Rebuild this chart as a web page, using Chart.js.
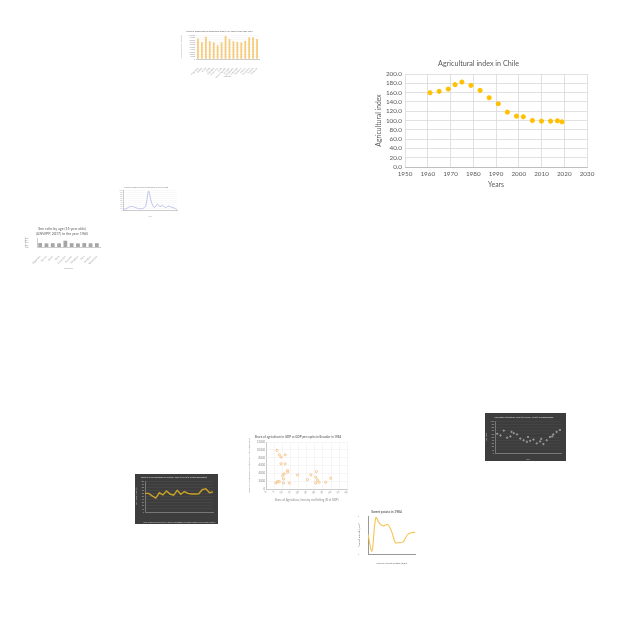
<!DOCTYPE html>
<html><head><meta charset="utf-8">
<script src="https://cdn.jsdelivr.net/npm/chart.js@4.4.1/dist/chart.umd.min.js"></script>
<style>
html,body{margin:0;padding:0;background:#fff;width:640px;height:640px;overflow:hidden;}
canvas{position:absolute;}
</style></head><body>
<script>
// ---------- DATA ----------
// Main chart: Agricultural index in Chile
const chileYears = [1961,1965,1969,1972,1975,1979,1983,1987,1991,1995,1999,2002,2006,2010,2014,2017,2019];
const chileIndex = [159.7,162.6,167.6,177.0,182.7,175.5,164.7,148.9,136.0,118.0,109.4,108.0,100.0,98.6,98.6,99.3,97.1];

// Thumbnail: bar chart (top)
const cropCountries = ['Argentina','Bolivia','Brazil','Chile','Colombia','Costa Rica','Cuba','Dominican Republic','Ecuador','El Salvador','Guatemala','Honduras','Mexico','Nicaragua','Panama','Paraguay'];
const cropValues = [8500,7000,9300,7400,6900,5700,6900,9600,8300,7400,7100,6900,7600,9000,9100,8300];

// Thumbnail: spiky line chart
const spikeYears = [1961,1964,1967,1970,1973,1976,1979,1982,1985,1988,1991,1994,1997,2000,2003,2006,2009,2012,2015,2018];
const spikeValues = [2,6,14,18,15,9,6,8,20,95,40,12,28,18,22,12,20,14,10,2];

// Thumbnail: sex ratio bars
const sexCountries = ['Argentina','Bolivia','Brazil','Chile','Colombia','Ecuador','Paraguay','Peru','Uruguay','Venezuela'];
const sexValues = [101.5,101.2,101.4,101.3,103.6,101.4,101.2,101.5,101.3,101.4];

// Thumbnail: dark line chart
const darkLineYears = [1961,1963,1965,1967,1969,1971,1973,1975,1977,1979,1981,1983,1985,1987,1989,1991,1993,1995,1997,1999];
const darkLineValues = [60,60,52,45,62,55,68,58,54,70,57,66,60,58,58,59,72,75,62,65];

// Thumbnail: Ecuador scatter
const ecuadorShare = [6.7,8.2,9.2,11.8,9.2,11.8,13.3,11.2,10.2,10.8,7.1,6.1,8.2,10.8,14.3,19.4,25.5,27.6,31.0,30.6,31.6,32.7,30.6,36.7,39.8,13.3];
const ecuadorGdp = [9860,8740,8140,8740,6430,6430,4710,3860,3430,2570,1890,1540,1890,1540,1540,3600,2400,3600,4460,3000,2310,1710,1540,1710,2740,4290];

// Thumbnail: sweet potato line
const potatoYears = [1961,1963,1965,1967,1969,1971,1973,1975,1977,1979,1981,1983,1985];
const potatoValues = [5.2,0.8,9.6,8.0,7.4,7.8,6.0,3.0,3.0,3.2,5.0,5.6,5.7];

// Thumbnail: dark scatter
const darkScatterX = [1962,1965,1968,1971,1974,1977,1980,1983,1986,1989,1992,1995,1998,2001,2004,2007,2010,2013,2016,2019,1975,1990,2002,2012];
const darkScatterY = [60,55,70,48,52,62,58,45,40,35,38,42,30,36,28,40,50,58,66,72,66,50,44,52];

// ---------- HELPERS ----------
Chart.defaults.font.family = 'Lato, "Liberation Sans", sans-serif';
Chart.defaults.animation = false;
Chart.defaults.responsive = false;
Chart.defaults.devicePixelRatio = 1;
Chart.defaults.plugins.legend.display = false;
Chart.defaults.plugins.tooltip.enabled = false;

function place(left, top, w, h, bg){
  const c = document.createElement('canvas');
  c.width = w; c.height = h;
  c.style.left = left + 'px'; c.style.top = top + 'px';
  c.style.width = w + 'px'; c.style.height = h + 'px';
  if (bg) c.style.background = bg;
  document.body.appendChild(c);
  return c;
}
// set plot area (l,t,r,b in canvas px)
function frame(opts, w, h, l, t, r, b){
  opts.layout = {padding:{left:0, right:w - r, top:0, bottom:0}};
  opts.scales.y.afterFit = s => { s.width = l; };
  opts.scales.x.afterFit = s => { s.height = h - b; };
  const tt = opts.plugins.title;
  const lines = Array.isArray(tt.text) ? tt.text.length : 1;
  const th = tt.font.size * 1.2 * lines;
  const pb = Math.max(0.5, (t - th) * 0.45);
  tt.padding = {top: Math.max(0, t - th - pb), bottom: pb};
  return opts;
}
const pts = (xs, ys) => xs.map((x, i) => ({x: x, y: ys[i]}));
const txt = '#595959';

// ---------- MAIN CHART ----------
{
  const W = 230, H = 140;
  const opts = {
    plugins: {
      title: {display:true, text:'Agricultural index in Chile', color:txt, font:{size:7.2, weight:'normal'}}
    },
    scales: {
      x: {type:'linear', min:1950, max:2030,
          ticks:{stepSize:10, color:txt, font:{size:6.3}, padding:3, autoSkip:false, maxRotation:0, callback:v => String(v)},
          grid:{color:'#d9d9d9', lineWidth:0.8, drawTicks:false},
          border:{color:'#bfbfbf'},
          title:{display:true, text:'Years', color:txt, font:{size:6.8}, padding:{top:0,bottom:3}}},
      y: {min:0, max:200,
          ticks:{stepSize:20, color:txt, font:{size:6.3}, padding:3, autoSkip:false, callback:v => v.toFixed(1)},
          grid:{color:'#d9d9d9', lineWidth:0.8, drawTicks:false},
          border:{display:false},
          title:{display:true, text:'Agricultural index', color:txt, font:{size:6.8}, padding:{top:5,bottom:0}}}
    }
  };
  frame(opts, W, H, 35, 22, 217, 115);
  new Chart(place(370, 52, W, H), {
    type:'scatter',
    data:{datasets:[{data:pts(chileYears, chileIndex), backgroundColor:'#FFC000', borderColor:'#FFC000', pointRadius:2.1}]},
    options:opts
  });
}

// ---------- THUMB: top bar chart ----------
{
  const W = 85, H = 52;
  const opts = {
    plugins:{title:{display:true, text:'Share of arable land in agricultural area (FAO, 2018) in the year 1975', color:'#777', font:{size:2.2}}},
    scales:{
      x:{ticks:{color:'#999', font:{size:2.2}, autoSkip:false, minRotation:45, maxRotation:45, padding:0},
         grid:{display:false}, border:{color:'#ccc'},
         title:{display:true, text:'Country', color:'#999', font:{size:2.2}, padding:0}},
      y:{min:0, max:10000, ticks:{stepSize:1000, color:'#999', font:{size:2.2}, padding:1, autoSkip:false},
         grid:{color:'#eee', lineWidth:0.4, drawTicks:false}, border:{display:false},
         title:{display:true, text:'Share of arable land (%)', color:'#999', font:{size:2.2}, padding:0}}
    }
  };
  frame(opts, W, H, 16, 9, 79, 33);
  new Chart(place(180, 26, W, H), {
    type:'bar',
    data:{labels:cropCountries, datasets:[{data:cropValues, backgroundColor:'#F7CB7A', barPercentage:0.45, categoryPercentage:1}]},
    options:opts
  });
}

// ---------- THUMB: spike line chart ----------
{
  const W = 65, H = 34;
  const opts = {
    plugins:{title:{display:true, text:'Annual change in cereal production, 1961 to 2018', color:'#999', font:{size:2}}},
    scales:{
      x:{type:'linear', min:1961, max:2018,
         ticks:{stepSize:3, color:'#aaa', font:{size:2}, padding:0.5, callback:v=>String(v), autoSkip:false, minRotation:90, maxRotation:90},
         grid:{display:false}, border:{color:'#ccc'},
         title:{display:true, text:'Year', color:'#aaa', font:{size:2}, padding:0}},
      y:{min:0, max:100, ticks:{stepSize:10, color:'#aaa', font:{size:2}, padding:0.5, autoSkip:false},
         grid:{color:'#f0f0f0', lineWidth:0.4, drawTicks:false}, border:{color:'#ccc'}}
    }
  };
  frame(opts, W, H, 8, 6, 62, 26);
  new Chart(place(115, 184, W, H), {
    type:'line',
    data:{datasets:[{data:pts(spikeYears, spikeValues), borderColor:'#B9BDEB', borderWidth:0.9, pointRadius:0, tension:0.3}]},
    options:opts
  });
}

// ---------- THUMB: sex ratio bars ----------
{
  const W = 80, H = 46;
  const opts = {
    plugins:{title:{display:true, text:['Sex ratio by age (15 year olds)','(UNWPP, 2017) in the year 1965'], color:'#888', font:{size:3.6}}},
    scales:{
      x:{ticks:{color:'#999', font:{size:2.5}, autoSkip:false, minRotation:45, maxRotation:45, padding:0},
         grid:{display:false}, border:{color:'#ccc'},
         title:{display:true, text:'Country', color:'#999', font:{size:2.5}, padding:0}},
      y:{min:98, max:106, ticks:{stepSize:2, color:'#999', font:{size:2.5}, padding:0.5, autoSkip:false},
         grid:{display:false}, border:{color:'#ccc'},
         title:{display:true, text:'Sex ratio', color:'#999', font:{size:2.5}, padding:0}}
    }
  };
  frame(opts, W, H, 13, 14, 76, 23);
  new Chart(place(24, 224, W, H), {
    type:'bar',
    data:{labels:sexCountries, datasets:[{data:sexValues, backgroundColor:'#A6A6A6', barPercentage:0.6, categoryPercentage:1}]},
    options:opts
  });
}

// ---------- THUMB: dark line chart ----------
{
  const W = 83, H = 50;
  const opts = {
    plugins:{title:{display:true, text:'Share of rural population in Paraguay, 1961 to 1999 (% of total population)', color:'#ccc', font:{size:2}}},
    scales:{
      x:{type:'linear', min:1961, max:1999,
         ticks:{stepSize:2, color:'#bbb', font:{size:2}, padding:1, callback:v=>String(v), autoSkip:false, maxRotation:0},
         grid:{display:false}, border:{color:'#777'},
         title:{display:true, text:'Year', color:'#bbb', font:{size:2}, padding:0.5}},
      y:{min:0, max:100, ticks:{stepSize:10, color:'#bbb', font:{size:2}, padding:1, autoSkip:false},
         grid:{color:'#505050', lineWidth:0.4, drawTicks:false}, border:{color:'#777'},
         title:{display:true, text:'Rural population (%)', color:'#bbb', font:{size:2}, padding:0}}
    }
  };
  frame(opts, W, H, 10, 7, 78, 38);
  new Chart(place(135, 474, W, H, '#3d3d3d'), {
    type:'line',
    data:{datasets:[{data:pts(darkLineYears, darkLineValues), borderColor:'#C9A227', borderWidth:1.4, pointRadius:0}]},
    options:opts
  });
}

// ---------- THUMB: Ecuador scatter ----------
{
  const W = 104, H = 70;
  const opts = {
    plugins:{title:{display:true, text:'Share of agriculture in GDP vs GDP per capita in Ecuador in 1984', color:'#777', font:{size:3}}},
    scales:{
      x:{type:'linear', min:0, max:50,
         ticks:{stepSize:5, color:'#888', font:{size:2.8}, padding:1, autoSkip:false, callback:v=>String(v)},
         grid:{color:'#ececec', lineWidth:0.5, drawTicks:false}, border:{color:'#ccc'},
         title:{display:true, text:'Share of Agriculture, forestry and fishing (% of GDP)', color:'#888', font:{size:2.8}, padding:{top:1,bottom:0}}},
      y:{min:0, max:12000, ticks:{stepSize:2000, color:'#888', font:{size:2.8}, padding:1, autoSkip:false, callback:v=>String(v)},
         grid:{color:'#ececec', lineWidth:0.5, drawTicks:false}, border:{color:'#ccc'},
         title:{display:true, text:'GDP per capita (PPP, constant 2011 international $)', color:'#888', font:{size:2.4}, padding:0}}
    }
  };
  frame(opts, W, H, 18, 10, 100, 57);
  new Chart(place(248, 432, W, H), {
    type:'scatter',
    data:{datasets:[{data:pts(ecuadorShare, ecuadorGdp), backgroundColor:'rgba(255,255,255,0)', borderColor:'#F3B56A', borderWidth:0.7, pointRadius:1.1}]},
    options:opts
  });
}

// ---------- THUMB: sweet potato line ----------
{
  const W = 60, H = 58;
  const opts = {
    plugins:{title:{display:true, text:'Sweet potato in 1984', color:'#666', font:{size:3.2}}},
    scales:{
      x:{type:'linear', min:1961, max:1985,
         ticks:{display:false},
         grid:{display:false}, border:{color:'#999'},
         title:{display:true, text:'Yield of Sweet Potato (t/ha)', color:'#666', font:{size:2.6}, padding:{top:1,bottom:0}}},
      y:{min:0, max:10, ticks:{stepSize:2, color:'#888', font:{size:2.4}, padding:1, autoSkip:false},
         grid:{display:false}, border:{color:'#999'},
         title:{display:true, text:'Sweet potato (t/ha)', color:'#666', font:{size:2.6}, padding:0}}
    }
  };
  frame(opts, W, H, 10, 9, 57, 47);
  new Chart(place(358, 507, W, H), {
    type:'line',
    data:{datasets:[{data:pts(potatoYears, potatoValues), borderColor:'#F6C453', borderWidth:1.1, pointRadius:0, tension:0.35}]},
    options:opts
  });
}

// ---------- THUMB: dark scatter ----------
{
  const W = 81, H = 48;
  const opts = {
    plugins:{title:{display:true, text:'Sex ratio at birth by year (UNWPP, 2017) in Bangladesh', color:'#ccc', font:{size:2.4}}},
    scales:{
      x:{type:'linear', min:1960, max:2020,
         ticks:{stepSize:10, color:'#bbb', font:{size:2.2}, padding:1, autoSkip:false, callback:v=>String(v)},
         grid:{display:false}, border:{color:'#777'},
         title:{display:true, text:'Year', color:'#bbb', font:{size:2.2}, padding:0.5}},
      y:{min:0, max:100, ticks:{stepSize:10, color:'#bbb', font:{size:2.2}, padding:1, autoSkip:false},
         grid:{color:'#4d4d4d', lineWidth:0.4, drawTicks:false}, border:{color:'#777'},
         title:{display:true, text:'Sex ratio', color:'#bbb', font:{size:2.2}, padding:0}}
    }
  };
  frame(opts, W, H, 10, 8, 78, 40);
  new Chart(place(485, 413, W, H, '#3d3d3d'), {
    type:'scatter',
    data:{datasets:[{data:pts(darkScatterX, darkScatterY), backgroundColor:'#9a9a9a', borderColor:'#9a9a9a', pointRadius:0.7}]},
    options:opts
  });
}
</script>
</body></html>
